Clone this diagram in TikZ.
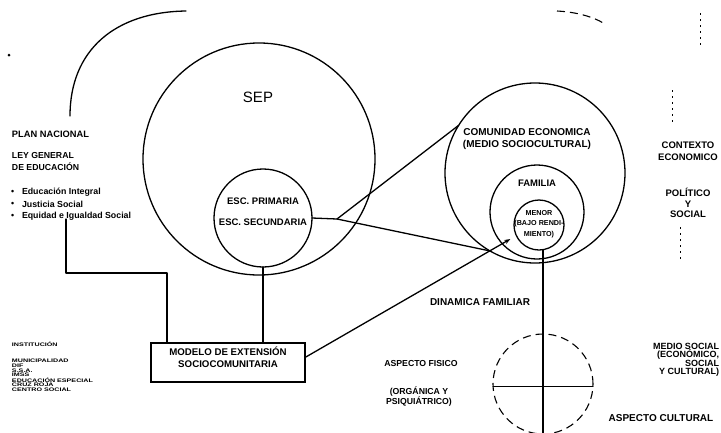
\documentclass[tikz,border=0pt]{standalone}
\usepackage{fontspec}
\usepackage{graphicx}
\setmainfont{Liberation Sans}
\usetikzlibrary{arrows.meta}
\begin{document}
\begin{tikzpicture}[x=1pt,y=-1pt,
  every node/.style={inner sep=0pt, outer sep=0pt},
  ln/.style={line width=1.3pt, line cap=round, line join=round},
  ring/.style={circle, draw, line width=1.3pt},
  lab/.style={font=\bfseries\fontsize{9.5}{11}\selectfont, align=center},
  labs/.style={font=\bfseries\fontsize{8.7}{10}\selectfont, align=center},
  leftl/.style={font=\bfseries\fontsize{8.8}{10}\selectfont, anchor=west},
  tinyl/.style={font=\bfseries\fontsize{5.1}{5}\selectfont, anchor=west},
  dsh/.style={line width=1.1pt, dash pattern=on 8pt off 5pt},
  rem/.style={line width=0.7pt, dash pattern=on 2pt off 4pt},
]
\useasboundingbox (0,0) rectangle (721,432);
\fill[white] (0,0) rectangle (721,432);

% circles
\node[ring, minimum size=232pt] (sep) at (259,159) {};
\node[ring, minimum size=98pt] (esc) at (263,218) {};
\node[ring, minimum size=180pt] (com) at (535,173) {};
\node[ring, minimum size=94pt] (fam) at (537,212) {};
\node[ring, minimum size=50pt] (men) at (539,225) {};
\node[circle, draw, dsh, minimum size=100pt] (asp) at (543,384) {};

% free shapes
\fill (9,55) circle (1.5pt);
\draw[ln] (70,116) .. controls (70,50) and (115,12) .. (186,11);
\draw[dsh] (557,11) .. controls (575,12) and (592,16) .. (605,24);
\draw[rem] (700,13) -- (700,47);
\draw[rem] (672,90) -- (672,123);
\draw[rem] (680,227) -- (680,260);

% texts in circles
\node[font=\fontsize{15}{16}\selectfont] (seplbl) at (258,97) {SEP};
\node[lab] (prim) at (263,201) {ESC. PRIMARIA};
\node[lab] (secu) at (263,222) {ESC. SECUNDARIA};
\node[font=\bfseries\fontsize{10}{12}\selectfont, align=center] (comt) at (527,139) {COMUNIDAD ECONOMICA\\(MEDIO SOCIOCULTURAL)};
\node[lab] (famt) at (537,183) {FAMILIA};
\node[font=\bfseries\fontsize{7.2}{10.5}\selectfont, align=center] (ment) at (539,224) {MENOR\\(BAJO RENDI-\\MIENTO)};

% box
\node[draw, line width=1.3pt, minimum width=154pt, minimum height=39pt] (box) at (228,362.5) {};
\node[lab, font=\bfseries\fontsize{9.7}{12}\selectfont] (boxt) at (228,357) {MODELO DE EXTENSIÓN\\SOCIOCOMUNITARIA};

% left texts
\node[leftl, font=\bfseries\fontsize{9.3}{10}\selectfont] (plan) at (12,134) {PLAN NACIONAL};
\node[leftl, font=\bfseries\fontsize{8.7}{10}\selectfont] (ley1) at (12,155) {LEY GENERAL};
\node[leftl, font=\bfseries\fontsize{8.7}{10}\selectfont] (ley2) at (12,167) {DE EDUCACIÓN};
\node[leftl] (b1) at (11,192) {\textbullet};
\node[leftl] (b2) at (11,204) {\textbullet};
\node[leftl] (b3) at (11,216) {\textbullet};
\node[leftl] (t1) at (22,192) {Educación Integral};
\node[leftl] (t2) at (22,204) {Justicia Social};
\node[leftl] (t3) at (22,216) {Equidad e Igualdad Social};

\node[tinyl] (inst) at (12,344) {\scalebox{1.4}[1]{INSTITUCIÓN}};
\foreach \t [count=\i] in {MUNICIPALIDAD, DIF, S.S.A., IMSS, EDUCACIÓN ESPECIAL, CRUZ ROJA, CENTRO SOCIAL}
  \node[tinyl] (li\i) at (12,356+4.8*\i) {\scalebox{1.4}[1]{\t}};

% right texts
\node[lab, font=\bfseries\fontsize{9.5}{12}\selectfont] (ctx) at (688,151) {CONTEXTO\\ECONOMICO};
\node[lab, font=\bfseries\fontsize{9.5}{10.5}\selectfont] (pol) at (688,203) {POLÍTICO\\Y\\SOCIAL};
\node[font=\bfseries\fontsize{9}{8.5}\selectfont, align=right, anchor=east] (med) at (719,360) {MEDIO SOCIAL\\(ECONÓMICO,\\SOCIAL\\Y CULTURAL)};
\node[font=\bfseries\fontsize{10}{11}\selectfont] (cult) at (661,418) {ASPECTO CULTURAL};
\node[labs] (fis) at (421,363) {ASPECTO FISICO};
\node[labs] (org) at (419,397) {(ORGÁNICA Y\\PSIQUIÁTRICO)};
\node[font=\bfseries\fontsize{10}{11}\selectfont] (din) at (480,302) {DINAMICA FAMILIAR};

% connectors
\coordinate (J) at (337,219);
\draw[ln] (esc.east) -- (J) -- (com.148);
\draw[ln] (J) -- (com.240);
\draw[ln] (esc.south) -- (esc.south |- box.north);
\draw[ln, -{Stealth[length=6pt,width=4.5pt]}, shorten >=7pt] ([yshift=5pt]box.east) -- (men.205);
\coordinate (L0) at (66,219);
\coordinate (L1) at (66,273);
\coordinate (L2) at (167,273);
\draw[ln] (L0) -- (L1) -- (L2) -- (L2 |- box.north);
\draw[ln] (men.south -| asp.north) -- (asp.south);
\draw[ln] (asp.183) -- (asp.-3);
\end{tikzpicture}
\end{document}
